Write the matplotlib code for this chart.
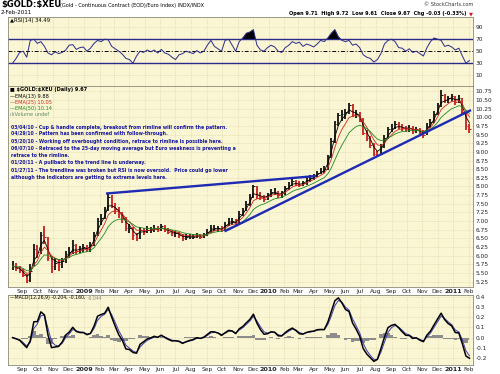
import numpy as np
import pandas as pd
import matplotlib
matplotlib.use('Agg')
import matplotlib.pyplot as plt

# weekly samples (Wednesdays, Aug 13 2008 .. Feb 2 2011)
week_start = '2008-08-13'
week_end = '2011-02-02'

close = [5.70, 5.65, 5.60, 5.45, 5.30, 5.55, 6.20, 6.10, 6.60, 6.55,
         5.95, 5.70, 5.80, 5.75, 5.85, 6.05, 6.10, 6.30, 6.15, 6.20,
         6.25, 6.20, 6.30, 6.60, 7.00, 7.10, 7.30, 7.70, 7.45, 7.35,
         7.20, 7.10, 6.80, 6.80, 6.60, 6.50, 6.75, 6.70, 6.75, 6.75,
         6.80, 6.75, 6.85, 6.75, 6.70, 6.65, 6.65, 6.60, 6.50, 6.55,
         6.55, 6.55, 6.60, 6.55, 6.60, 6.70, 6.80, 6.80, 6.80, 6.75,
         6.90, 7.00, 7.00, 6.95, 7.20, 7.30, 7.50, 7.70, 8.00, 7.75,
         7.70, 7.65, 7.75, 7.85, 7.85, 7.75, 7.80, 7.95, 8.05, 8.15,
         8.10, 8.05, 8.10, 8.20, 8.25, 8.30, 8.40, 8.45, 8.50, 8.85,
         9.30, 9.80, 10.05, 10.10, 10.15, 10.35, 10.10, 10.10, 9.95, 9.55,
         9.40, 9.20, 8.95, 8.90, 9.15, 9.40, 9.65, 9.70, 9.80, 9.75,
         9.70, 9.65, 9.70, 9.60, 9.65, 9.55, 9.50, 9.75, 9.85, 10.10,
         10.35, 10.65, 10.50, 10.55, 10.60, 10.45, 10.55, 10.15, 9.75, 9.67]

high = [5.85, 5.78, 5.72, 5.62, 5.48, 5.75, 6.35, 6.30, 6.70, 6.87,
        6.55, 6.00, 5.95, 5.90, 5.95, 6.15, 6.25, 6.45, 6.35, 6.28,
        6.35, 6.32, 6.40, 6.68, 7.08, 7.20, 7.40, 7.80, 7.75, 7.52,
        7.40, 7.25, 7.12, 6.92, 6.82, 6.65, 6.82, 6.80, 6.85, 6.82,
        6.88, 6.85, 6.92, 6.88, 6.80, 6.75, 6.72, 6.70, 6.62, 6.62,
        6.63, 6.62, 6.66, 6.64, 6.66, 6.76, 6.88, 6.88, 6.86, 6.85,
        6.98, 7.08, 7.08, 7.05, 7.28, 7.38, 7.58, 7.78, 8.05, 8.02,
        7.85, 7.76, 7.82, 7.92, 7.95, 7.88, 7.88, 8.02, 8.12, 8.22,
        8.20, 8.15, 8.16, 8.26, 8.32, 8.36, 8.46, 8.52, 8.58, 8.92,
        9.40, 9.88, 10.12, 10.20, 10.25, 10.42, 10.38, 10.22, 10.15, 9.98,
        9.62, 9.45, 9.25, 9.02, 9.22, 9.48, 9.72, 9.80, 9.88, 9.86,
        9.80, 9.76, 9.78, 9.74, 9.72, 9.70, 9.62, 9.82, 9.95, 10.18,
        10.42, 10.78, 10.68, 10.62, 10.68, 10.62, 10.63, 10.55, 10.15, 9.80]

low = [5.60, 5.55, 5.50, 5.38, 5.22, 5.25, 5.70, 5.95, 6.05, 6.35,
       5.85, 5.50, 5.60, 5.55, 5.65, 5.80, 5.95, 6.05, 6.05, 6.08,
       6.12, 6.10, 6.12, 6.28, 6.58, 6.90, 7.05, 7.28, 7.38, 7.20,
       7.10, 6.95, 6.72, 6.65, 6.45, 6.42, 6.48, 6.60, 6.65, 6.66,
       6.70, 6.68, 6.72, 6.68, 6.62, 6.58, 6.55, 6.50, 6.43, 6.46,
       6.48, 6.48, 6.50, 6.48, 6.52, 6.56, 6.66, 6.72, 6.70, 6.68,
       6.72, 6.86, 6.90, 6.85, 6.92, 7.15, 7.28, 7.45, 7.68, 7.65,
       7.60, 7.56, 7.60, 7.70, 7.76, 7.66, 7.68, 7.76, 7.90, 8.00,
       8.02, 7.98, 8.00, 8.05, 8.14, 8.18, 8.26, 8.35, 8.40, 8.48,
       8.82, 9.25, 9.75, 9.90, 9.95, 10.10, 10.00, 9.98, 9.85, 9.48,
       9.30, 9.10, 8.88, 8.87, 8.90, 9.12, 9.38, 9.58, 9.66, 9.65,
       9.60, 9.56, 9.58, 9.52, 9.54, 9.48, 9.40, 9.48, 9.70, 9.82,
       10.05, 10.30, 10.40, 10.42, 10.48, 10.36, 10.40, 10.08, 9.62, 9.55]

rsi = [30, 38, 48, 50, 40, 68, 70, 63, 66, 58,
       47, 44, 49, 46, 48, 52, 60, 61, 53, 56,
       57, 50, 55, 63, 68, 66, 70, 69, 58, 54,
       50, 45, 38, 36, 30, 42, 50, 48, 52, 49,
       52, 47, 53, 47, 45, 40, 36, 44, 46, 50,
       48, 46, 51, 47, 50, 60, 68, 58, 54, 50,
       68, 70, 60, 50, 66, 72, 80, 82, 86, 60,
       52, 50, 56, 60, 57, 50, 48, 56, 60, 66,
       63, 65, 58, 62, 60, 57, 62, 68, 66, 72,
       80, 86, 74, 68, 66, 68, 60, 62, 56, 44,
       40, 38, 32, 36, 46, 62, 68, 70, 66, 56,
       55, 50, 54, 48, 50, 46, 42, 56, 66, 72,
       70, 68, 58, 60, 57, 52, 55, 42, 30, 34.49]

# hand drawn trendlines
rim_dates = ['2009-02-16', '2010-04-03']
rim_vals = [7.80, 8.30]
trend_dates = ['2009-10-08', '2011-02-03']
trend_vals = [6.72, 10.19]

notes = ["03/04/10 - Cup & handle complete, breakout from rimline will confirm the pattern.",
         "04/29/10 - Pattern has been confirmed with follow-through.",
         "05/20/10 - Working off overbought condition, retrace to rimline is possible here.",
         "06/07/10 - Retraced to the 25-day moving average but Euro weakness is preventing a",
         "retrace to the rimline.",
         "01/20/11 - A pullback to the trend line is underway.",
         "01/27/11 - The trendline was broken but RSI is now oversold.  Price could go lower",
         "although the indicators are getting to extreme levels here."]

dates = pd.date_range(week_start, week_end, freq='7D')
px = pd.Series(close, index=dates)


def ema(s, n):
    # daily EMA period expressed on weekly samples (5 trading days)
    a = 1 - (1 - 2 / (n + 1)) ** 5
    return s.ewm(alpha=a, adjust=False).mean()


ema13 = ema(px, 13)
ema25 = ema(px, 25)
ema50 = ema(px, 50)
macd = ema(px, 12) - ema(px, 26)
signal = ema(macd, 9)
hist = macd - signal

BG = '#FAF5D2'
GRID = '#D9D2A6'
NAVY = '#2A2A8C'
W, H = 500, 374


def fx(x):
    return x / W


def fy(y):
    return 1 - y / H


fig = plt.figure(figsize=(5, 3.74), dpi=100)
ax_r = fig.add_axes([fx(8), fy(86), 465 / W, 69 / H])
ax_p = fig.add_axes([fx(8), fy(287), 465 / W, 201 / H])
ax_m = fig.add_axes([fx(8), fy(365), 465 / W, 70 / H])

xl = (pd.Timestamp('2008-08-04'), pd.Timestamp('2011-02-09'))
months = pd.date_range('2008-09-01', '2011-02-01', freq='MS')
mlabels = [str(m.year) if m.month == 1 else m.strftime('%b') for m in months]

for ax in (ax_r, ax_p, ax_m):
    ax.set_facecolor(BG)
    ax.set_xlim(xl)
    ax.set_xticks(months)
    ax.grid(True, color=GRID, lw=0.5, ls=(0, (1, 1.5)))
    ax.set_axisbelow(True)
    ax.yaxis.tick_right()
    ax.tick_params(length=0, labelsize=4.2, colors='#222222', pad=2)
    for s in ax.spines.values():
        s.set_color('#8A8A7A')
        s.set_linewidth(0.6)

ax_r.set_xticklabels([])
for ax in (ax_p, ax_m):
    ax.set_xticklabels(mlabels)
    ax.tick_params(axis='x', pad=1.5)
    for lab in ax.get_xticklabels():
        if lab.get_text().isdigit():
            lab.set_fontweight('bold')
            lab.set_fontsize(4.6)

# RSI panel
rs = np.array(rsi, dtype=float)
ax_r.set_ylim(-8, 107)
ax_r.set_yticks([10, 30, 50, 70, 90])
ax_r.axhline(70, color=NAVY, lw=1.0)
ax_r.axhline(30, color=NAVY, lw=1.0)
ax_r.axhline(50, color='black', lw=0.7, ls=(0, (4, 2, 1, 2)))
ax_r.fill_between(dates, rs, 70, where=rs > 70, interpolate=True, color='black', lw=0)
ax_r.fill_between(dates, rs, 30, where=rs < 30, interpolate=True, color='black', lw=0)
ax_r.plot(dates, rs, color=NAVY, lw=0.7)

# price panel
ax_p.set_ylim(5.1, 10.9)
pt = np.arange(5.25, 10.8, 0.25)
ax_p.set_yticks(pt)
ax_p.set_yticklabels(['%.2f' % v for v in pt])
prev = np.r_[close[0], close[:-1]]
cols = ['#C81E1E' if c < p else '#111111' for c, p in zip(close, prev)]
ax_p.vlines(dates, low, high, colors=cols, lw=1.3)
ax_p.hlines(close, dates, dates + pd.Timedelta(days=3), colors=cols, lw=0.7)
ax_p.plot(dates, ema13, color='black', lw=0.6)
ax_p.plot(dates, ema25, color='#D0281E', lw=0.6)
ax_p.plot(dates, ema50, color='#1F8A1F', lw=0.6)
ax_p.plot(pd.to_datetime(rim_dates), rim_vals, color='#1E2AB4', lw=1.7)
ax_p.plot(pd.to_datetime(trend_dates), trend_vals, color='#1E2AB4', lw=1.7)

# MACD panel
ax_m.set_ylim(-0.27, 0.42)
mt = [0.4, 0.3, 0.2, 0.1, 0.0, -0.1, -0.2]
ax_m.set_yticks(mt)
ax_m.set_yticklabels(['%.1f' % v for v in mt])
ax_m.fill_between(dates, hist, 0, step='mid', color='#8C8C8C', lw=0)
ax_m.plot(dates, signal, color='#3C3CB4', lw=0.7)
ax_m.plot(dates, macd, color='black', lw=1.1)

# header texts
fig.text(fx(1), fy(5), '\\$GOLD:\\$XEU', fontsize=6.0, fontweight='bold', va='center')
fig.text(fx(60), fy(5), '(Gold - Continuous Contract (EOD)/Euro Index) INDX/INDX',
         fontsize=3.6, va='center')
fig.text(fx(1), fy(13), '2-Feb-2011', fontsize=4.0, va='center')
fig.text(fx(473), fy(4), '\u00a9 StockCharts.com', fontsize=3.6, va='center', ha='right',
         color='#333333')
fig.text(fx(466), fy(14), 'Open 9.71  High 9.72  Low 9.61  Close 9.67  Chg -0.03 (-0.33%)',
         fontsize=3.6, va='center', ha='right', fontweight='bold')
fig.text(fx(473), fy(14), '\u25bc', fontsize=3.8, va='center', ha='right', color='#C81E1E')

fig.text(fx(10), fy(20.5), '\u25b2RSI(14) 34.49', fontsize=3.8, va='center')
fig.text(fx(10), fy(90), '\u25a0 \\$GOLD:\\$XEU (Daily) 9.67', fontsize=3.6, va='center',
         fontweight='bold')
fig.text(fx(10), fy(96.5), '\u2014EMA(13) 9.88', fontsize=3.6, va='center', color='black')
fig.text(fx(10), fy(102.3), '\u2014EMA(25) 10.05', fontsize=3.6, va='center', color='#D0281E')
fig.text(fx(10), fy(108.2), '\u2014EMA(50) 10.14', fontsize=3.6, va='center', color='#1F8A1F')
fig.text(fx(10), fy(114.2), '\u0131l\u0131Volume undef', fontsize=3.6, va='center', color='#5E8A6E')

note_y = [127.3, 133.5, 141.5, 148.3, 155.5, 162.7, 170.0, 177.3]
for line, ny in zip(notes, note_y):
    fig.text(fx(11), fy(ny), line, fontsize=3.35, va='center', color='#1515A0',
             fontweight='bold')

mlab = fig.text(fx(10), fy(298), '\u2014MACD(12,26,9) -0.204, -0.160,', fontsize=3.3,
                va='center')
fig.canvas.draw()
bb = mlab.get_window_extent()
fig.text((bb.x1 + 2) / W, fy(298), '-0.044', fontsize=3.3, va='center', color='#888888')

fig.savefig('out.png', dpi=100, facecolor='white')
